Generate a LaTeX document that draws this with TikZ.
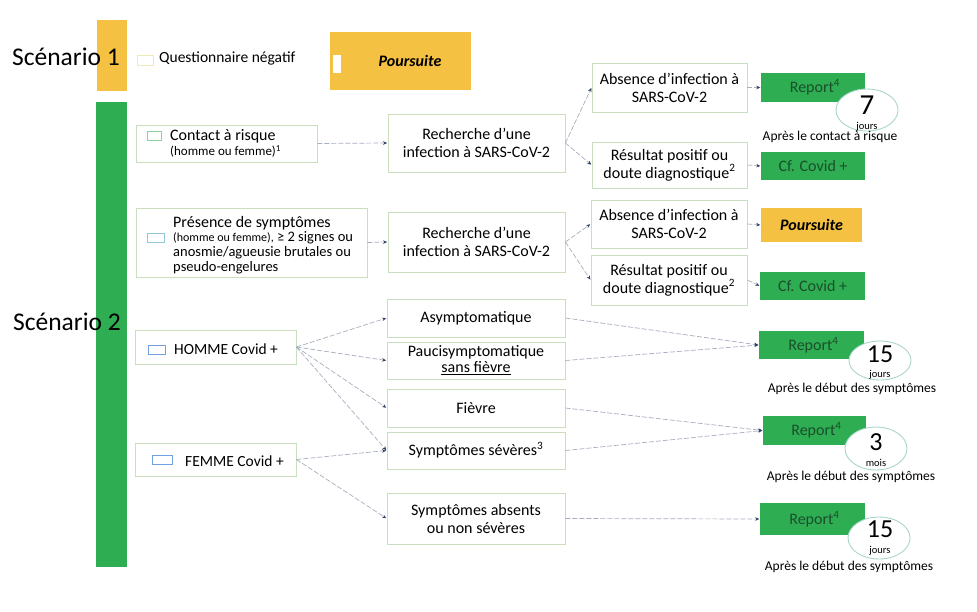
\documentclass[tikz,border=0pt]{standalone}
\usepackage{fontspec}
\setmainfont{Carlito}
\usetikzlibrary{arrows.meta}
\definecolor{gfill}{HTML}{2EAD52}
\definecolor{ofill}{HTML}{F5C142}
\definecolor{bline}{HTML}{C9DFBF}
\definecolor{cline}{HTML}{A7AFBF}
\definecolor{ctip}{HTML}{2F3F66}
\definecolor{gtext}{HTML}{1A4F2B}
\definecolor{eline}{HTML}{A9D6CC}
\definecolor{sqgreen}{HTML}{8FD39C}
\definecolor{sqblue}{HTML}{8FC9DC}
\definecolor{sqyel}{HTML}{EFE9B4}
\newcommand{\fs}[2]{\fontsize{#1}{#2}\selectfont}
\tikzset{
  box/.style={draw=bline, line width=0.8pt, fill=white, inner sep=0pt, align=center, font=\fs{16}{18}},
  greenbox/.style={fill=gfill, draw=none, inner sep=0pt, align=center, text=gtext, font=\fs{16}{18}},
  orangebox/.style={fill=ofill, draw=none, inner sep=0pt, align=center, font=\fs{16}{18}\bfseries\itshape},
  conn/.style={draw=cline, line width=0.7pt, dash pattern=on 5pt off 2pt, -{Stealth[length=4pt,width=3.5pt,color=ctip]}, shorten >=0.5pt},
  daysell/.style={ellipse, draw=eline, line width=0.9pt, fill=white, inner sep=0pt},
  sq/.style={draw=#1, line width=0.9pt, fill=white, inner sep=0pt},
  lbl/.style={inner sep=0pt, font=\fs{13.5}{15}}
}
\usetikzlibrary{shapes.geometric}
\begin{document}
\begin{tikzpicture}[x=1pt,y=-1pt]
\useasboundingbox (0,0) rectangle (977,611);
\fill[white] (0,0) rectangle (977,611);
% bars
\fill[ofill] (97,20) rectangle (127,91);
\fill[gfill] (96,102) rectangle (127,567);
\node[inner sep=0pt, font=\fs{25.5}{28}] (sc1) at (66,57) {Scénario 1};
\node[inner sep=0pt, font=\fs{25.5}{28}] (sc2) at (67,322) {Scénario 2};
% scenario 1
\node[sq=sqyel, minimum width=16pt, minimum height=10pt] (q1sq) at (145,60) {};
\node[inner sep=0pt, anchor=west, font=\fs{15.5}{17}] (q1) at (159,58) {Questionnaire négatif};
\node[orangebox, minimum width=141pt, minimum height=58pt, text width=141pt] (pours1) at (400.5,61) {\hspace*{19pt}Poursuite};
\fill[white] (333,55) rectangle (341,73);
% row 1
\node[box, minimum width=181pt, minimum height=37pt] (contact) at (226.5,143.5) {};
\node[sq=sqgreen, minimum width=14pt, minimum height=9pt] (contactsq) at (154,135.5) {};
\node[inner sep=0pt, anchor=west, align=left, font=\fs{13}{15}] (contactt) at (170,143.5) {{\fs{16}{15}Contact à risque}\\(homme ou femme)\textsuperscript{1}};
\node[box, minimum width=177pt, minimum height=58pt] (rech1) at (476.5,143) {Recherche d’une\\infection à SARS-CoV-2};
\node[box, minimum width=155pt, minimum height=49pt] (abs1) at (669.5,87.5) {Absence d’infection à\\SARS-CoV-2};
\node[box, minimum width=155pt, minimum height=46pt] (res1) at (669.5,165) {Résultat positif ou\\doute diagnostique\textsuperscript{2}};
\node[greenbox, minimum width=104pt, minimum height=29pt] (rep1) at (813,87.5) {\hspace*{4pt}Report\textsuperscript{4}};
\node[greenbox, minimum width=104pt, minimum height=28pt] (cf1) at (813,166) {Cf. Covid +};
\node[daysell, minimum width=62pt, minimum height=42pt] (ell1) at (867,110) {};
\node[inner sep=0pt, font=\fs{29}{30}] (n1) at (867,105) {7};
\node[inner sep=0pt, font=\fs{10.5}{12}] (u1) at (867,127) {jours};
\node[lbl] (a1) at (830,137) {Après le contact à risque};
% row 2
\node[box, minimum width=231pt, minimum height=69pt] (pres) at (251.5,242.5) {};
\node[sq=sqblue, minimum width=17pt, minimum height=9pt] (pressq) at (155.5,237.5) {};
\node[inner sep=0pt, anchor=west, align=left, font=\fs{14.5}{14.8}] (prest) at (173,245) {{\fs{16}{15}Présence de symptômes}\\{\fs{12}{14}(homme ou femme),} ≥ 2 signes ou\\anosmie/agueusie brutales ou\\pseudo-engelures};
\node[box, minimum width=177pt, minimum height=60pt] (rech2) at (476.5,242) {Recherche d’une\\infection à SARS-CoV-2};
\node[box, minimum width=156pt, minimum height=48pt] (abs2) at (669,224) {Absence d’infection à\\SARS-CoV-2};
\node[box, minimum width=156pt, minimum height=50pt] (res2) at (669,280) {Résultat positif ou\\doute diagnostique\textsuperscript{2}};
\node[orangebox, minimum width=101pt, minimum height=34pt] (pours2) at (811.5,225) {Poursuite};
\node[greenbox, minimum width=105pt, minimum height=28pt] (cf2) at (812.5,286) {Cf. Covid +};
% row 3
\node[box, minimum width=161pt, minimum height=34pt] (homme) at (215.5,347) {};
\node[sq=sqblue!80!blue, minimum width=17pt, minimum height=9pt] (hommesq) at (156.5,349.5) {};
\node[inner sep=0pt, anchor=west, font=\fs{15.5}{17}] (hommet) at (174,349) {HOMME Covid +};
\node[box, minimum width=161pt, minimum height=33pt] (femme) at (215.5,459.5) {};
\node[sq=sqblue!80!blue, minimum width=20pt, minimum height=9pt] (femmesq) at (162,459.5) {};
\node[inner sep=0pt, anchor=west, font=\fs{15.5}{17}] (femmet) at (185,461) {FEMME Covid +};
\node[box, minimum width=178pt, minimum height=38pt] (asym) at (476,318) {Asymptomatique};
\node[box, minimum width=178pt, minimum height=37pt] (pauci) at (476,360.5) {Paucisymptomatique\\[-2pt]\underline{sans fièvre}};
\node[box, minimum width=178pt, minimum height=38pt] (fievre) at (476,408) {Fièvre};
\node[box, minimum width=178pt, minimum height=37pt] (severe) at (476,450.5) {Symptômes sévères\textsuperscript{3}};
\node[box, minimum width=178pt, minimum height=51pt] (absents) at (476,518.5) {Symptômes absents\\ou non sévères};
\node[greenbox, minimum width=105pt, minimum height=28pt] (rep2) at (811.5,345) {\hspace*{4pt}Report\textsuperscript{4}};
\node[greenbox, minimum width=103pt, minimum height=29pt] (rep3) at (814.5,430.5) {\hspace*{4pt}Report\textsuperscript{4}};
\node[greenbox, minimum width=105pt, minimum height=32pt] (rep4) at (812.5,519) {\hspace*{4pt}Report\textsuperscript{4}};
\node[daysell, minimum width=62pt, minimum height=39pt] (ell2) at (880,360.5) {};
\node[inner sep=0pt, font=\fs{26}{28}] (n2) at (880,354) {15};
\node[inner sep=0pt, font=\fs{10.5}{12}] (u2) at (880,375) {jours};
\node[lbl] (a2) at (852,388.5) {Après le début des symptômes};
\node[daysell, minimum width=62pt, minimum height=43pt] (ell3) at (876,448.5) {};
\node[inner sep=0pt, font=\fs{26}{28}] (n3) at (876,442) {3};
\node[inner sep=0pt, font=\fs{10.5}{12}] (u3) at (876,463) {mois};
\node[lbl] (a3) at (851,476.5) {Après le début des symptômes};
\node[daysell, minimum width=62pt, minimum height=42pt] (ell4) at (879,538) {};
\node[inner sep=0pt, font=\fs{26}{28}] (n4) at (880,529) {15};
\node[inner sep=0pt, font=\fs{10.5}{12}] (u4) at (880,551) {jours};
\node[lbl] (a4) at (849,566.5) {Après le début des symptômes};
% connectors
\draw[conn] (contact.east) -- (rech1.west);
\draw[conn] (rech1.east) -- (abs1.west);
\draw[conn] (rech1.east) -- (res1.west);
\draw[conn] (abs1.east) -- (rep1.west);
\draw[conn] (res1.east) -- (cf1.west);
\draw[conn] (pres.east) -- (rech2.west);
\draw[conn] (rech2.east) -- (abs2.west);
\draw[conn] (rech2.east) -- (res2.west);
\draw[conn] (abs2.east) -- (pours2.west);
\draw[conn] (res2.east) -- (cf2.west);
\draw[conn] (homme.east) -- (asym.west);
\draw[conn] (homme.east) -- (pauci.west);
\draw[conn] (homme.east) -- (fievre.west);
\draw[conn] (homme.east) -- (severe.west);
\draw[conn] (femme.east) -- (severe.west);
\draw[conn] (femme.east) -- (absents.west);
\draw[conn] (asym.east) -- (rep2.west);
\draw[conn] (pauci.east) -- (rep2.west);
\draw[conn] (fievre.east) -- (rep3.west);
\draw[conn] (severe.east) -- (rep3.west);
\draw[conn] (absents.east) -- (rep4.west);
\end{tikzpicture}
\end{document}
